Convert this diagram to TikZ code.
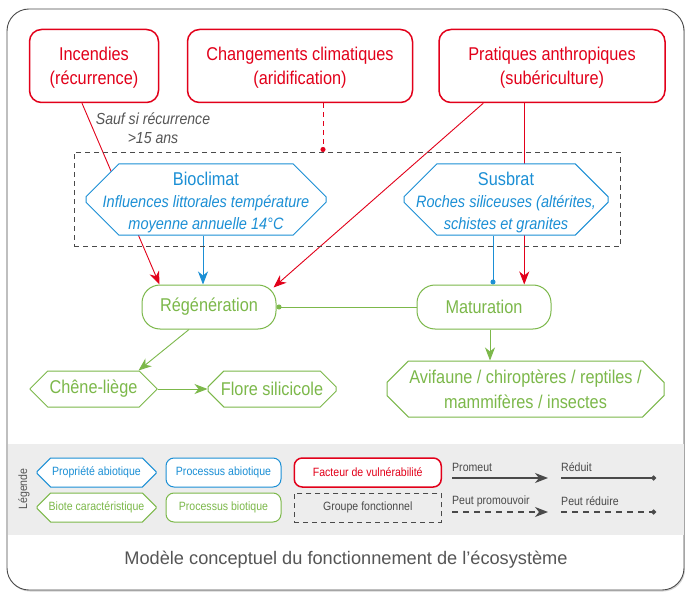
\documentclass[tikz,border=0pt]{standalone}
\usepackage{fontspec}
\setmainfont{Liberation Sans}[FakeStretch=0.88]
\newfontfamily\captionfont{Liberation Sans}
\usepackage{tikz}
\usetikzlibrary{shapes.misc,arrows.meta,positioning,fit,calc,shadows,backgrounds}
\definecolor{VulnRed}{HTML}{E2001A}
\definecolor{AbioBlue}{HTML}{1B8FD5}
\definecolor{BioGreen}{HTML}{7CB84A}
\definecolor{LegendGray}{HTML}{EDEDED}
\definecolor{FrameGray}{HTML}{4A4A4A}
\definecolor{NoteGray}{HTML}{555555}
\newcommand\detail[1]{{\itshape\fontsize{16.5}{21}\selectfont #1}}
\tikzset{
  FB/.style={align=center,inner sep=0pt,fill=white,
             font=\fontsize{18.5}{22}\selectfont},
  nR/.style={FB,rectangle,rounded corners=12pt,draw=VulnRed,line width=1.5pt,
             text=VulnRed,minimum height=73pt},
  nB/.style={FB,chamfered rectangle,chamfered rectangle xsep=21pt,
             chamfered rectangle ysep=19pt,inner sep=-20pt,draw=AbioBlue,
             line width=1pt,text=AbioBlue,minimum height=71pt},
  nP/.style={FB,rectangle,rounded corners=18pt,draw=BioGreen,line width=1pt,
             text=BioGreen,minimum width=134pt,minimum height=44pt},
  nV/.style={FB,chamfered rectangle,chamfered rectangle xsep=9pt,
             chamfered rectangle ysep=9pt,draw=BioGreen,line width=1pt,
             text=BioGreen},
  grpbox/.style={draw=FrameGray,dash pattern=on 5pt off 4pt,line width=1pt,
                 inner xsep=11.5pt,inner ysep=11pt},
  lg/.style={align=center,inner sep=0pt,fill=white,minimum height=29pt,
             font=\fontsize{12}{14}\selectfont},
  lgtext/.style={inner sep=2pt,text=FrameGray,font=\fontsize{12}{14}\selectfont},
  arr/.style={-{Stealth[length=13pt,width=10pt,inset=4pt]},line width=0.9pt},
  dot/.style={-{Circle[length=5pt]},line width=0.9pt},
  note/.style={align=center,text=NoteGray,font=\itshape\fontsize{16}{18.5}\selectfont}
}
\begin{document}
\begin{tikzpicture}[x=1pt,y=-1pt,node distance=5pt and 9pt]
  \useasboundingbox (0,0) rectangle (685,596);
  \begin{scope}[on background layer]
    \draw[FrameGray,line width=0.9pt,rounded corners=22pt,fill=white,
          drop shadow={opacity=0.35,shadow xshift=1pt,shadow yshift=-1.5pt}]
          (7,9) rectangle (684,590);
    \fill[LegendGray] (7.5,444) rectangle (683.5,535);
  \end{scope}
  \node[nR,minimum width=129pt] (inc) at (94,66) {\rule{0pt}{16pt}Incendies\\[2pt](récurrence)};
  \node[nR,minimum width=225pt] (clim) at (300,66) {\rule{0pt}{16pt}Changements climatiques\\[2pt](aridification)};
  \node[nR,minimum width=226pt] (prat) at (552,66) {\rule{0pt}{16pt}Pratiques anthropiques\\[2pt](subériculture)};
  \node[note] (sauf) at (153,128) {Sauf si récurrence\\>15 ans};
  \node[nB,minimum width=240pt] (bio) at (206,199.5)
    {\rule{0pt}{20pt}Bioclimat\\\detail{Influences littorales température}\\\detail{moyenne annuelle 14°C}};
  \node[nB,minimum width=204pt] (sus) at (506,199.5)
    {\rule{0pt}{20pt}Susbrat\\\detail{Roches siliceuses (altérites,}\\\detail{schistes et granites}};
  \node[grpbox,fit=(bio)(sus)] (grp) {};
  \node[nP] (reg) at (209,307) {Régénération};
  \node[nP] (mat) at (484,307) {Maturation};
  \node[nV,minimum width=127pt,minimum height=36pt] (chene) at (93.5,389) {Chêne-liège};
  \node[nV,minimum width=128pt,minimum height=36pt] (flore) at (272,389) {Flore silicicole};
  \node[nV,minimum width=277pt,minimum height=56pt,inner ysep=-10pt,
        chamfered rectangle xsep=12pt,chamfered rectangle ysep=12pt] (avi) at (525.5,389)
    {Avifaune / chiroptères / reptiles /\\[3pt]mammifères / insectes};
  \begin{scope}[on background layer]
    \draw[arr,VulnRed] ($(inc.south)+(-12,0)$) -- ($(reg.north west)+(18,0)$);
    \draw[arr,VulnRed] ($(prat.south west)+(45,0)$) -- ($(reg.north east)+(-3,3)$);
    \draw[arr,VulnRed] ($(prat.south west)+(86,0)$) coordinate (p1) -- (p1 |- mat.north);
    \draw[dot,VulnRed,line width=1pt,dash pattern=on 5pt off 4pt] ($(clim.south)+(23,0)$) coordinate (c1) -- (c1 |- grp.north);
    \draw[arr,AbioBlue] ($(bio.south)+(-3,0)$) coordinate (b1) -- (b1 |- reg.north);
    \draw[dot,AbioBlue] ($(sus.south)+(-13,0)$) coordinate (s1) -- (s1 |- mat.north);
    \draw[dot,BioGreen] (mat.west) -- (reg.east);
    \draw[arr,BioGreen] ($(reg.south)+(-20,0)$) -- ($(chene.north)+(45,0)$);
    \draw[arr,BioGreen] (chene.east) -- (flore.west);
    \draw[arr,BioGreen] ($(mat.south)+(6,0)$) coordinate (m1) -- (m1 |- avi.north);
  \end{scope}
  \node[rotate=90,text=NoteGray,font=\fontsize{12}{14}\selectfont] (leg) at (24,489) {Légende};
  \node[lg,nV,draw=AbioBlue,text=AbioBlue,minimum width=119pt,minimum height=29pt,
        chamfered rectangle xsep=8pt,chamfered rectangle ysep=8pt,
        font=\fontsize{12}{14}\selectfont] (lgA) at (96.5,472.5) {Propriété abiotique};
  \node[lg,draw=AbioBlue,text=AbioBlue,line width=1pt,rounded corners=8pt,minimum width=115pt,
        right=9pt of lgA] (lgB) {Processus abiotique};
  \node[lg,draw=VulnRed,text=VulnRed,line width=1.5pt,rounded corners=8pt,minimum width=147pt,
        right=12pt of lgB] (lgC) {Facteur de vulnérabilité};
  \node[lg,nV,minimum width=119pt,minimum height=29pt,chamfered rectangle xsep=8pt,
        chamfered rectangle ysep=8pt,font=\fontsize{12}{14}\selectfont,below=5pt of lgA] (lgD) {Biote caractéristique};
  \node[lg,draw=BioGreen,text=BioGreen,line width=1pt,rounded corners=8pt,minimum width=115pt,
        below=5pt of lgB] (lgE) {Processus biotique};
  \node[lg,draw=FrameGray,text=FrameGray,line width=1pt,dash pattern=on 5pt off 4pt,fill=none,
        minimum width=147pt,below=5pt of lgC] (lgF) {Groupe fonctionnel};
  \node[lgtext,anchor=west] (prom) at (450,467) {Promeut};
  \node[lgtext,anchor=west] (redu) at (559,467) {Réduit};
  \node[lgtext,anchor=west] (pprom) at (450,501) {Peut promouvoir};
  \node[lgtext,anchor=west] (predu) at (559,501) {Peut réduire};
  \coordinate (a1) at (452,478);
  \coordinate (a2) at (548,478);
  \coordinate (r1) at (561,478);
  \coordinate (r2) at (656,478);
  \coordinate (a3) at (452,512);
  \coordinate (a4) at (548,512);
  \coordinate (r3) at (561,512);
  \coordinate (r4) at (656,512);
  \draw[arr,FrameGray,line width=1.2pt] (a1) -- (a2);
  \draw[dot,FrameGray,line width=1.2pt] (r1) -- (r2);
  \draw[arr,FrameGray,line width=1.2pt,dash pattern=on 6pt off 5pt] (a3) -- (a4);
  \draw[dot,FrameGray,line width=1.2pt,dash pattern=on 6pt off 5pt] (r3) -- (r4);
  \node[text=NoteGray,font=\captionfont\fontsize{18.2}{21}\selectfont] (cap) at (346,560)
    {Modèle conceptuel du fonctionnement de l’écosystème};
\end{tikzpicture}
\end{document}
